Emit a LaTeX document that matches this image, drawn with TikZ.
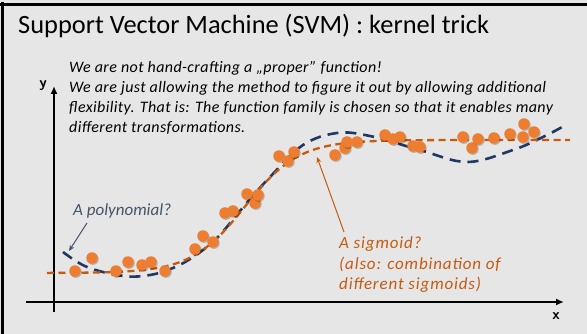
\documentclass[tikz,border=0pt]{standalone}
\usepackage{fontspec}
\setmainfont{Carlito}
\usetikzlibrary{arrows.meta}
\definecolor{slidebg}{HTML}{E6E6E6}
\definecolor{navy}{HTML}{1F3864}
\definecolor{rust}{HTML}{C55A11}
\definecolor{dotfill}{HTML}{ED7D31}
\definecolor{slategray}{HTML}{44546A}
\tikzset{
  axis/.style={line width=2.4pt, -{Latex[length=8pt,width=7pt]}},
  polycurve/.style={navy, line width=2.6pt, dash pattern=on 11pt off 7pt},
  sigcurve/.style={rust, line width=2.3pt, dash pattern=on 7pt off 4.5pt},
  datadot/.style={circle, fill=dotfill, inner sep=0pt, minimum size=11.5pt},
  dotshadow/.style={circle, fill=black, opacity=0.22, inner sep=0pt, minimum size=11.5pt, xshift=1pt, yshift=-1.2pt},
  bodytext/.style={font=\fontsize{16}{20}\selectfont\itshape\addfontfeature{LetterSpace=2.5}, align=left, inner sep=0pt},
  note/.style={font=\fontsize{17}{20.5}\selectfont\itshape, align=left, inner sep=0pt},
  widenote/.style={note, font=\fontsize{17}{20.5}\selectfont\itshape\addfontfeature{LetterSpace=5}},
  axislabel/.style={font=\fontsize{15}{18}\selectfont\bfseries\sffamily, inner sep=0pt},
}
\begin{document}
\begin{tikzpicture}[x=1pt, y=-1pt]
  \useasboundingbox (0,0) rectangle (587,334);
  % slide background and frame edges
  \fill[slidebg] (0,0) rectangle (587,334);
  \draw[black, line width=3.5pt] (0,4.3) -- (587,4.3);
  \draw[black, line width=3.5pt] (2.3,2.5) -- (2.3,334);

  % title
  \node[anchor=base west, inner sep=0pt, font=\fontsize{26.4}{30}\selectfont] (title) at (18,34) {Support Vector Machine (SVM) : kernel trick};

  % explanatory text (anchored at the baseline of its last line)
  \node[bodytext, anchor=base west] (body) at (69,132.5)
    {We are not hand-crafting a „proper” function!\\
     We are just allowing the method to figure it out by allowing additional\\
     flexibility. That is: The function family is chosen so that it enables many\\
     different transformations.};

  % axes
  \coordinate (xstart) at (26,302);
  \coordinate (xend) at (564,302);
  \coordinate (ystart) at (54,312);
  \coordinate (yend) at (54,86);
  \draw[axis] (xstart) -- (xend);
  \draw[axis] (ystart) -- (yend);
  \node[axislabel] (xlabel) at (556,316) {x};
  \node[axislabel] (ylabel) at (43,85.5) {y};

  % polynomial fit
  \draw[polycurve] plot[smooth, tension=0.6] coordinates {
    (63,252) (87,267) (123,276) (150,275) (173,268) (193,257) (217,238)
    (245,205) (270,177) (303,145) (337,133) (370,136) (420,150) (467,162)
    (513,150) (543,137) (564,126)};

  % sigmoid fit
  \draw[sigcurve] plot[domain=47:570, samples=80, smooth] (\x, {273 - 133/(1+exp(-(\x-245)/27))});

  % observations
  \foreach \p [count=\i] in {
    (75,271),(92,258),(116,271),(128,262),(142,265),(151,262),(165,271),
    (195,249),(203,236),(213,242),(225,213),(233,211),(247,194),(255,203),(258,195),
    (279,156),(288,161),(294,152),
    (335,155),(345,148),(347,142),(357,142),
    (385,135),(393,139),(400,137),(413,146),(420,147),
    (463,137),(472,148),(478,139),(494,138),(510,134),(523,137),(524,124),(534,132)} {
    \node[dotshadow] at \p {};
    \node[datadot] (d\i) at \p {};
  }

  % annotations
  \node[note, text=slategray, anchor=base west] (polylabel) at (73,215) {A polynomial?};
  \coordinate (polytip) at (69,251);
  \draw[slategray, line width=1pt, -{Stealth[length=6pt,width=5pt]}] (87,223) -- (polytip);

  \node[widenote, text=rust, anchor=base west] (siglabel) at (339,290)
    {A sigmoid?\\(also: combination of\\different sigmoids)};
  \coordinate (sigtip) at (317,157);
  \draw[rust, line width=1pt, -{Stealth[length=6pt,width=5pt]}] (344,232) -- (sigtip);
\end{tikzpicture}
\end{document}
